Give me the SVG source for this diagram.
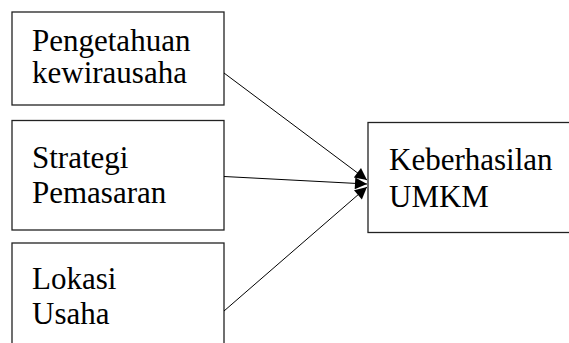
<svg xmlns="http://www.w3.org/2000/svg" width="569" height="343" viewBox="0 0 569 343">
<style>
.box{fill:#fff;stroke:#222;stroke-width:1.3}
.t{font-size:31px;fill:#000}
.c{stroke:#000;stroke-width:1;fill:none;marker-end:url(#ah)}
</style>
<defs>
<marker id="ah" viewBox="0 0 10 10" refX="10" refY="5" markerWidth="15" markerHeight="12" markerUnits="userSpaceOnUse" orient="auto">
<path d="M0,0 L10,5 L0,10 z" fill="#000"/>
</marker>
</defs>
<rect width="569" height="343" fill="#fff"/>
<g font-family="Liberation Serif, Times New Roman, Tinos, DejaVu Serif, serif">
<g id="n1">
<rect class="box" x="12" y="12" width="212" height="93"/>
<text class="t" x="32" y="51">Pengetahuan</text>
<text class="t" x="32" y="83">kewirausaha</text>
</g>
<g id="n2">
<rect class="box" x="12" y="120.5" width="212" height="109.5"/>
<text class="t" x="32" y="168">Strategi</text>
<text class="t" x="32" y="203">Pemasaran</text>
</g>
<g id="n3">
<rect class="box" x="12" y="243" width="212" height="110"/>
<text class="t" x="32" y="289">Lokasi</text>
<text class="t" x="32" y="324">Usaha</text>
</g>
<g id="n4">
<rect class="box" x="368" y="122.5" width="210" height="110"/>
<text class="t" x="389" y="169.5">Keberhasilan</text>
<text class="t" x="389" y="206.5">UMKM</text>
</g>
</g>
<g id="connectors">
<line class="c" x1="224" y1="73" x2="367" y2="180"/>
<line class="c" x1="224" y1="176.5" x2="367" y2="184"/>
<line class="c" x1="224" y1="311" x2="367" y2="187"/>
</g>
</svg>
